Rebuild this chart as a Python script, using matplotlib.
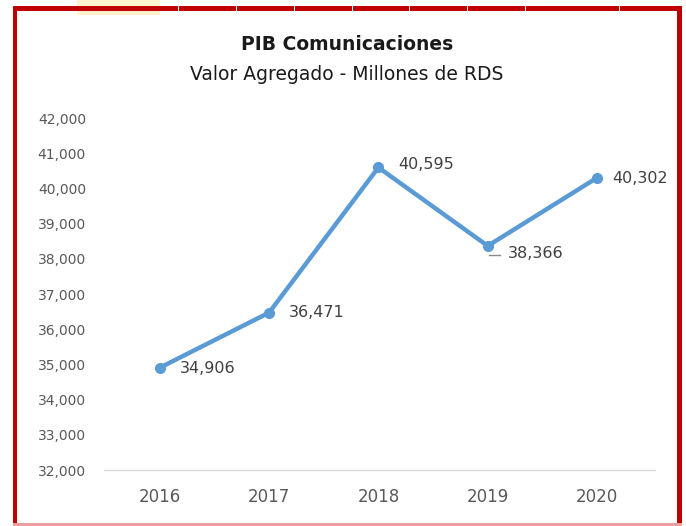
import matplotlib
matplotlib.use('Agg')
import matplotlib.pyplot as plt
import matplotlib.ticker as mticker
from matplotlib.patches import Rectangle
import numpy as np

# Data
years = ['2016', '2017', '2018', '2019', '2020']
values = [34906, 36471, 40595, 38366, 40302]
yticks = np.arange(32000, 42001, 1000)

plt.rcParams['font.family'] = ['DejaVu Sans']

fig = plt.figure(figsize=(6.86, 5.26), dpi=100)
fig.patch.set_facecolor('white')

# red frame around the chart (figure coords)
W, H = 686, 526
red = '#C00000'
fig.patches.append(Rectangle((77 / W, 1 - 15 / H), 83 / W, 15 / H, transform=fig.transFigure,
                             facecolor='#FFF2CC', edgecolor='none', zorder=0))
fig.patches.append(Rectangle((13 / W, 1 - 11 / H), 669 / W, 5 / H, transform=fig.transFigure,
                             facecolor=red, edgecolor='none', zorder=1))
fig.patches.append(Rectangle((13 / W, 0), 4 / W, 1 - 6 / H, transform=fig.transFigure,
                             facecolor=red, edgecolor='none', zorder=1))
fig.patches.append(Rectangle((677 / W, 0), 5 / W, 1 - 6 / H, transform=fig.transFigure,
                             facecolor=red, edgecolor='none', zorder=1))
fig.patches.append(Rectangle((13 / W, 0), 669 / W, 3 / H, transform=fig.transFigure,
                             facecolor='#E8A0A0', edgecolor='none', zorder=1))
for gx in [178, 236, 294, 352, 409, 467, 525, 619]:
    fig.patches.append(Rectangle((gx / W, 1 - 11 / H), 1 / W, 5 / H, transform=fig.transFigure,
                                 facecolor='white', edgecolor='none', zorder=2))

ax = fig.add_axes([104 / W, 1 - 470 / H, 551 / W, 352 / H])
x = np.arange(len(years))
ax.plot(x, values, color='#5B9BD5', linewidth=3.2, marker='o', markersize=7,
        solid_capstyle='round', solid_joinstyle='round', zorder=3)

# data labels (offsets in pixels)
offsets = [(20, -1), (20, 0), (20, 3), (20, -8), (15, -1)]
for xi, v, (dx, dy) in zip(x, values, offsets):
    ax.annotate(f'{v:,}', (xi, v), xytext=(dx * 0.72, dy * 0.72), textcoords='offset points',
                ha='left', va='center', fontsize=11.5, color='#404040')
# leader line for 2019
ax.plot([3.01, 3.11], [values[3] - 250, values[3] - 250], color='#8C8C8C', linewidth=1.0)

ax.set_xlim(-0.51, 4.53)
ax.set_ylim(32000, 42000)
ax.set_xticks(x)
ax.set_xticklabels(years)
ax.set_yticks(yticks)
ax.yaxis.set_major_formatter(mticker.FuncFormatter(lambda v, p: f'{int(v):,}'))
ax.tick_params(axis='y', length=0, pad=13, labelsize=10, labelcolor='#595959')
ax.tick_params(axis='x', length=0, pad=13, labelsize=12, labelcolor='#595959')
for s in ['top', 'right', 'left']:
    ax.spines[s].set_visible(False)
ax.spines['bottom'].set_color('#D9D9D9')
ax.spines['bottom'].set_linewidth(1)

fig.text(347 / W, 1 - 44 / H, 'PIB Comunicaciones', ha='center', va='center',
         fontsize=13.5, fontweight='bold', color='#1a1a1a')
fig.text(347 / W, 1 - 74 / H, 'Valor Agregado - Millones de RDS', ha='center', va='center',
         fontsize=13.5, color='#1a1a1a')

fig.savefig('out.png', dpi=100, facecolor='white')
